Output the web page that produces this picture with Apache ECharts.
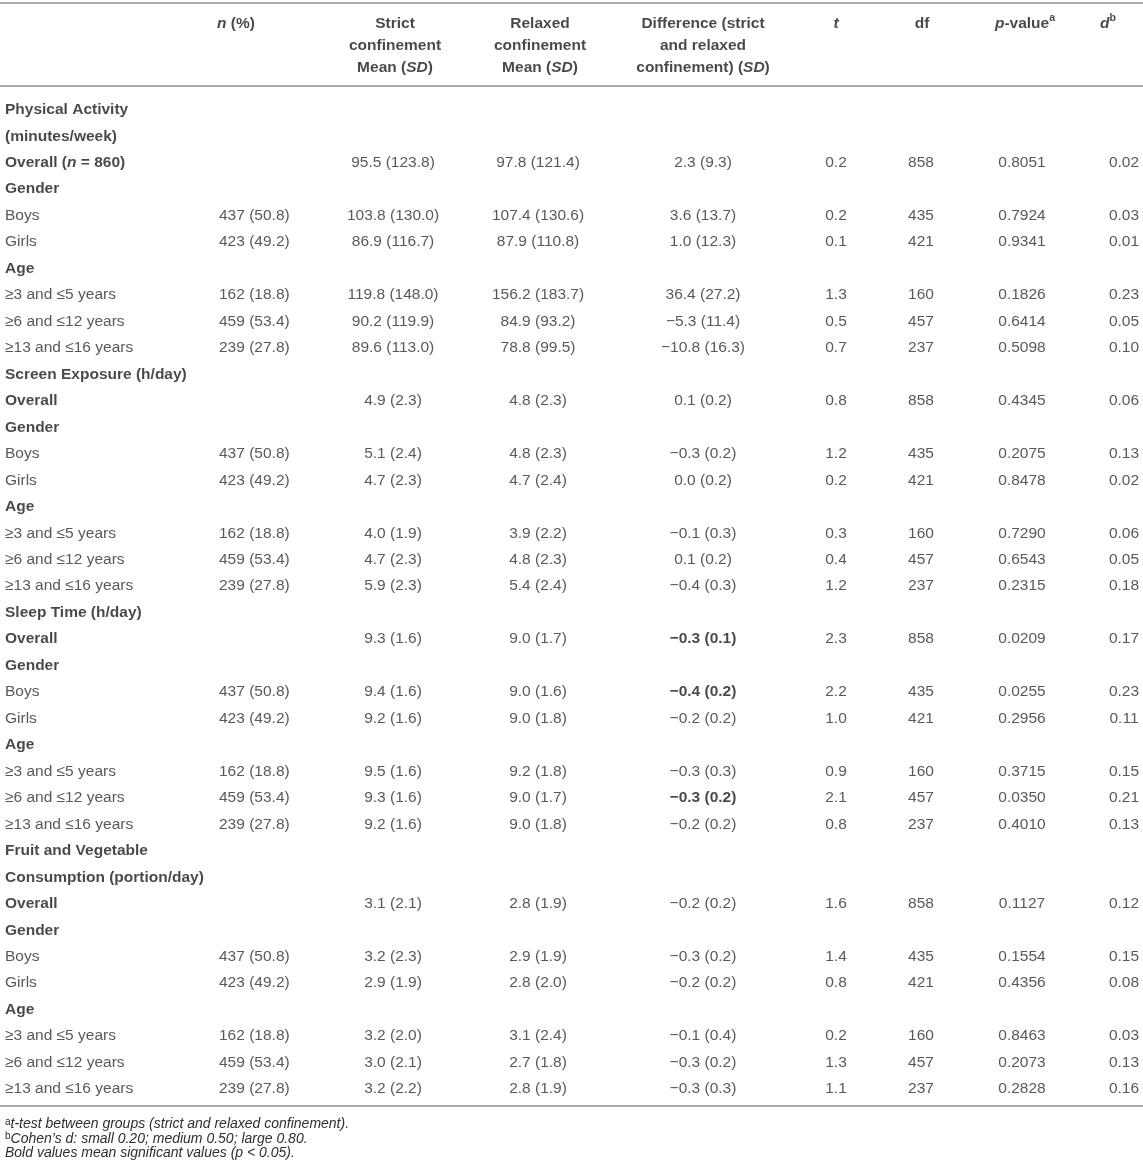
<!DOCTYPE html>
<html><head><meta charset="utf-8">
<script src="https://cdn.jsdelivr.net/npm/echarts@6/dist/echarts.min.js"></script>
<style>html,body{margin:0;padding:0;background:#fff}#c{width:1143px;height:1176px}</style>
</head><body><div id="c"></div>
<script>
// ---------- DATA ----------
const rowLabels = [
  'Physical Activity', '(minutes/week)', 'Overall (n = 860)', 'Gender', 'Boys', 'Girls', 'Age',
  '≥3 and ≤5 years', '≥6 and ≤12 years', '≥13 and ≤16 years',
  'Screen Exposure (h/day)', 'Overall', 'Gender', 'Boys', 'Girls', 'Age',
  '≥3 and ≤5 years', '≥6 and ≤12 years', '≥13 and ≤16 years',
  'Sleep Time (h/day)', 'Overall', 'Gender', 'Boys', 'Girls', 'Age',
  '≥3 and ≤5 years', '≥6 and ≤12 years', '≥13 and ≤16 years',
  'Fruit and Vegetable', 'Consumption (portion/day)', 'Overall', 'Gender', 'Boys', 'Girls', 'Age',
  '≥3 and ≤5 years', '≥6 and ≤12 years', '≥13 and ≤16 years'
];
const rowIsHeading = [1,1,1,1,0,0,1,0,0,0, 1,1,1,0,0,1,0,0,0, 1,1,1,0,0,1,0,0,0, 1,1,1,1,0,0,1,0,0,0];
// rows (index into rowLabels) that carry values
const dataRows = [2,4,5,7,8,9, 11,13,14,16,17,18, 20,22,23,25,26,27, 30,32,33,35,36,37];
const nCount   = [null,437,423,162,459,239, null,437,423,162,459,239, null,437,423,162,459,239, null,437,423,162,459,239];
const nPct     = [null,50.8,49.2,18.8,53.4,27.8, null,50.8,49.2,18.8,53.4,27.8, null,50.8,49.2,18.8,53.4,27.8, null,50.8,49.2,18.8,53.4,27.8];
const strictMean  = [95.5,103.8,86.9,119.8,90.2,89.6, 4.9,5.1,4.7,4.0,4.7,5.9, 9.3,9.4,9.2,9.5,9.3,9.2, 3.1,3.2,2.9,3.2,3.0,3.2];
const strictSD    = [123.8,130.0,116.7,148.0,119.9,113.0, 2.3,2.4,2.3,1.9,2.3,2.3, 1.6,1.6,1.6,1.6,1.6,1.6, 2.1,2.3,1.9,2.0,2.1,2.2];
const relaxedMean = [97.8,107.4,87.9,156.2,84.9,78.8, 4.8,4.8,4.7,3.9,4.8,5.4, 9.0,9.0,9.0,9.2,9.0,9.0, 2.8,2.9,2.8,3.1,2.7,2.8];
const relaxedSD   = [121.4,130.6,110.8,183.7,93.2,99.5, 2.3,2.3,2.4,2.2,2.3,2.4, 1.7,1.6,1.8,1.8,1.7,1.8, 1.9,1.9,2.0,2.4,1.8,1.9];
const diffMean = [2.3,3.6,1.0,36.4,-5.3,-10.8, 0.1,-0.3,0.0,-0.1,0.1,-0.4, -0.3,-0.4,-0.2,-0.3,-0.3,-0.2, -0.2,-0.3,-0.2,-0.1,-0.3,-0.3];
const diffSD   = [9.3,13.7,12.3,27.2,11.4,16.3, 0.2,0.2,0.2,0.3,0.2,0.3, 0.1,0.2,0.2,0.3,0.2,0.2, 0.2,0.2,0.2,0.4,0.2,0.3];
const diffSignificant = [0,0,0,0,0,0, 0,0,0,0,0,0, 1,1,0,0,1,0, 0,0,0,0,0,0];
const tStat  = [0.2,0.2,0.1,1.3,0.5,0.7, 0.8,1.2,0.2,0.3,0.4,1.2, 2.3,2.2,1.0,0.9,2.1,0.8, 1.6,1.4,0.8,0.2,1.3,1.1];
const dfVals = [858,435,421,160,457,237, 858,435,421,160,457,237, 858,435,421,160,457,237, 858,435,421,160,457,237];
const pValue = [0.8051,0.7924,0.9341,0.1826,0.6414,0.5098, 0.4345,0.2075,0.8478,0.7290,0.6543,0.2315,
                0.0209,0.0255,0.2956,0.3715,0.0350,0.4010, 0.1127,0.1554,0.4356,0.8463,0.2073,0.2828];
const cohenD = [0.02,0.03,0.01,0.23,0.05,0.10, 0.06,0.13,0.02,0.06,0.05,0.18, 0.17,0.23,0.11,0.15,0.21,0.13, 0.12,0.15,0.08,0.03,0.13,0.16];

const headerLabels = [
  '{bi|n}{b| (%)}',
  '{b|Strict}\n{b|confinement}\n{b|Mean (}{bi|SD}{b|)}',
  '{b|Relaxed}\n{b|confinement}\n{b|Mean (}{bi|SD}{b|)}',
  '{b|Difference (strict}\n{b|and relaxed}\n{b|confinement) (}{bi|SD}{b|)}',
  '{bi|t}', '{b|df}', '{bi|p}{b|-value}{supb|a}', '{bi|d}{supb|b}'
];
const footnotes = [
  '{sup|a}{i|t-test between groups (strict and relaxed confinement).}',
  '{sup|b}{i|Cohen’s d: small 0.20; medium 0.50; large 0.80.}',
  '{i|Bold values mean significant values (p < 0.05).}'
];

// ---------- LAYOUT ----------
const FONT = '"Liberation Sans", Arial, Helvetica, sans-serif';
const FS = 15.5;
const REG = '#2e2e2e', BOLD = '#1a1a1a', LINE = '#ababab';
const headX = [217, 395, 540, 703, 836, 922, 1025, 1108];   // header column anchors
const headAlign = ['left','center','center','center','center','center','center','center'];
const bodyX = { label: 5, n: 219, strict: 393, relaxed: 538, diff: 703, t: 836, df: 921, p: 1022, d: 1124 };

const rich = {
  b:   { fontWeight: 'bold', color: BOLD, fontSize: FS, lineHeight: 22, fontFamily: FONT },
  bi:  { fontWeight: 'bold', fontStyle: 'italic', color: BOLD, fontSize: FS, lineHeight: 22, fontFamily: FONT },
  i:   { fontStyle: 'italic', color: REG, fontSize: FS, lineHeight: 22, fontFamily: FONT },
  supb:{ fontWeight: 'bold', color: BOLD, fontSize: 10.5, lineHeight: 12, verticalAlign: 'top', fontFamily: FONT },
  sup: { color: REG, fontSize: 10.5, lineHeight: 12, verticalAlign: 'top', fontFamily: FONT }
};

const f1 = v => (v < 0 ? '−' : '') + Math.abs(v).toFixed(1);
const pad3 = s => { const n = s.split('\n').length; return s + '\n{b| }'.repeat(3 - n); };

function textSeries(xAxisIndex, yAxisIndex, data, align, offset) {
  return {
    type: 'scatter', xAxisIndex, yAxisIndex, data,
    symbol: 'circle', symbolSize: 0, silent: true,
    itemStyle: { color: 'rgba(0,0,0,0)' },
    emphasis: { disabled: true },
    label: {
      show: true, position: align === 'left' ? 'right' : 'inside', distance: 0,
      offset: offset || [0, 0],
      formatter: p => p.data[2],
      color: REG, fontSize: FS, lineHeight: 22, fontFamily: FONT, rich
    }
  };
}

// header series
const headerSeries = headerLabels.map((h, k) =>
  textSeries(0, 0, [[headX[k], 0, pad3(h)]], headAlign[k], [0, 1.5]));

// body row labels
const labelData = rowLabels.map((t, i) => {
  const s = rowIsHeading[i] ? '{b|' + t.replace('(n ', '(}{bi|n}{b| ') + '}' : t;
  return [bodyX.label, i, s];
});
const col = (x, fmt) => dataRows.map((r, k) => {
  const s = fmt(k);
  return s == null ? null : [x, r, s];
}).filter(Boolean);

const bodySeries = [
  textSeries(2, 1, labelData, 'left'),
  textSeries(2, 1, col(bodyX.n, k => nCount[k] == null ? null : nCount[k] + ' (' + nPct[k].toFixed(1) + ')'), 'left'),
  textSeries(2, 1, col(bodyX.strict, k => f1(strictMean[k]) + ' (' + f1(strictSD[k]) + ')'), 'center'),
  textSeries(2, 1, col(bodyX.relaxed, k => f1(relaxedMean[k]) + ' (' + f1(relaxedSD[k]) + ')'), 'center'),
  textSeries(2, 1, col(bodyX.diff, k => {
    const s = f1(diffMean[k]) + ' (' + f1(diffSD[k]) + ')';
    return diffSignificant[k] ? '{b|' + s + '}' : s;
  }), 'center'),
  textSeries(2, 1, col(bodyX.t, k => f1(tStat[k])), 'center'),
  textSeries(2, 1, col(bodyX.df, k => String(dfVals[k])), 'center'),
  textSeries(2, 1, col(bodyX.p, k => pValue[k].toFixed(4)), 'center'),
  textSeries(2, 1, col(bodyX.d, k => cohenD[k].toFixed(2)), 'center')
];

const lineAxis = (gridIndex, position, show) => ({
  type: 'value', gridIndex, position, min: 0, max: 1143,
  axisLine: { show, onZero: false, lineStyle: { color: LINE, width: 2 } },
  axisTick: { show: false }, axisLabel: { show: false }, splitLine: { show: false }
});

const chart = echarts.init(document.getElementById('c'), null, { renderer: 'canvas' });
chart.setOption({
  backgroundColor: '#ffffff',
  animation: false,
  title: {
    text: footnotes.join('\n'),
    left: 5, top: 1117, padding: 0,
    textStyle: {
      fontSize: 14, fontWeight: 'normal', lineHeight: 14.5, fontFamily: FONT, color: REG,
      rich: {
        i:   { fontStyle: 'italic', fontWeight: 'normal', fontSize: 14, lineHeight: 14.5, color: REG, fontFamily: FONT },
        sup: { fontWeight: 'normal', fontSize: 10, lineHeight: 10, verticalAlign: 'top', color: REG, fontFamily: FONT }
      }
    }
  },
  grid: [
    { left: 0, right: 0, top: 3, height: 83, outerBoundsMode: 'none' },
    { left: 0, right: 0, top: 86, height: 1020, outerBoundsMode: 'none' }
  ],
  xAxis: [
    lineAxis(0, 'top', true),
    lineAxis(0, 'bottom', true),
    lineAxis(1, 'bottom', true)
  ],
  yAxis: [
    { type: 'category', gridIndex: 0, data: ['header'], show: false },
    { type: 'value', gridIndex: 1, inverse: true, min: -0.9, max: 37.64, show: false }
  ],
  series: headerSeries.concat(bodySeries)
});
</script></body></html>
